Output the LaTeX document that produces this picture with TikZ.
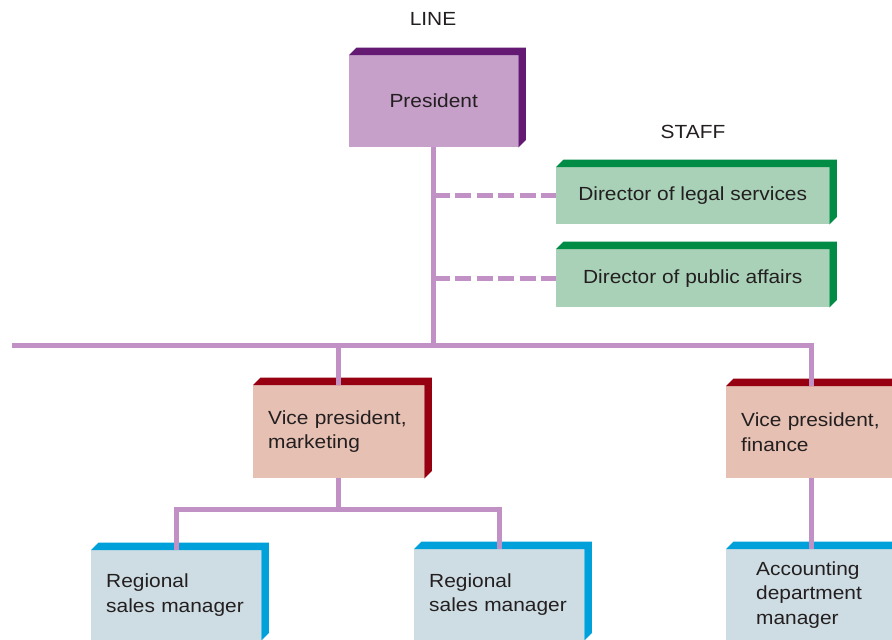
\documentclass[tikz,border=0pt]{standalone}
\usepackage{fontspec}
\setmainfont[FakeStretch=1.1]{Liberation Sans}
\definecolor{presf}{HTML}{C6A0C9}
\definecolor{presd}{HTML}{641A73}
\definecolor{stafff}{HTML}{A9D1B8}
\definecolor{staffd}{HTML}{008C44}
\definecolor{vpf}{HTML}{E6C0B2}
\definecolor{vpd}{HTML}{960010}
\definecolor{lowf}{HTML}{CDDDE3}
\definecolor{lowd}{HTML}{00A0DA}
\definecolor{linec}{HTML}{C190C4}
\definecolor{txt}{HTML}{231F20}
\begin{document}
\begin{tikzpicture}[x=1pt,y=-1pt,
  every node/.style={text=txt, font=\fontsize{19}{24.5}\selectfont},
  cbox/.style={anchor=north west, inner sep=0pt, align=center},
  lbox/.style={anchor=north west, inner ysep=0pt, inner xsep=15pt, align=left},
  link/.style={draw=linec, line width=5pt},
  dlink/.style={link, dash pattern=on 16pt off 5.5pt},
  lbl/.style={inner sep=0pt}]
\clip (0,0) rectangle (892,640);
\fill[white] (0,0) rectangle (892,640);
% boxes
\node[cbox, fill=presf, minimum width=169pt, minimum height=92pt] (pres) at (349,55) {President};
\node[cbox, fill=stafff, minimum width=273pt, minimum height=57pt] (staffa) at (556,167) {Director of legal services};
\node[cbox, fill=stafff, minimum width=273pt, minimum height=58pt] (staffb) at (556,249) {Director of public affairs};
\node[lbox, fill=vpf, text width=141pt, minimum height=93pt] (vpm) at (253,385) {Vice president,\\marketing};
\node[lbox, fill=vpf, text width=141pt, minimum height=92pt] (vpfin) at (726,386) {Vice president,\\finance};
\node[lbox, fill=lowf, text width=140pt, minimum height=90pt] (rega) at (91,550) {Regional\\sales manager};
\node[lbox, fill=lowf, text width=140pt, minimum height=91pt] (regb) at (414,549) {Regional\\sales manager};
\node[lbox, inner xsep=30pt, fill=lowf, text width=112pt, minimum height=91pt] (acc) at (726,549) {Accounting\\department\\manager};
% 3D faces
\foreach \n/\c in {pres/presd, staffa/staffd, staffb/staffd, vpm/vpd, vpfin/vpd, rega/lowd, regb/lowd, acc/lowd}{
  \fill[\c] (\n.north west) -- ++(7.5,-7.5) -- ([shift={(7.5,-7.5)}]\n.north east)
    -- ([shift={(7.5,-7.5)}]\n.south east) -- (\n.south east) -- (\n.north east) -- cycle;
}
% labels
\node[lbl] (linelbl) at (433,19) {LINE};
\node[lbl] (stafflbl) at (693,132) {STAFF};
% connectors
\coordinate (lend) at (12,345);
\coordinate (busy) at (0,509.5);
\draw[link] (pres.south) -- (pres.south |- lend);
\draw[link] (lend) -- (lend -| vpfin.north) -- (vpfin.north);
\draw[link] (vpm.north |- lend) -- (vpm.north);
\draw[dlink] (pres.south |- staffa.west) -- (staffa.west);
\draw[dlink] (pres.south |- staffb.west) -- (staffb.west);
\draw[link] (vpm.south) -- (vpm.south |- busy);
\draw[link] (rega.north) -- (rega.north |- busy) -- (regb.north |- busy) -- (regb.north);
\draw[link] (vpfin.south) -- (vpfin.south |- acc.north);
\end{tikzpicture}
\end{document}
